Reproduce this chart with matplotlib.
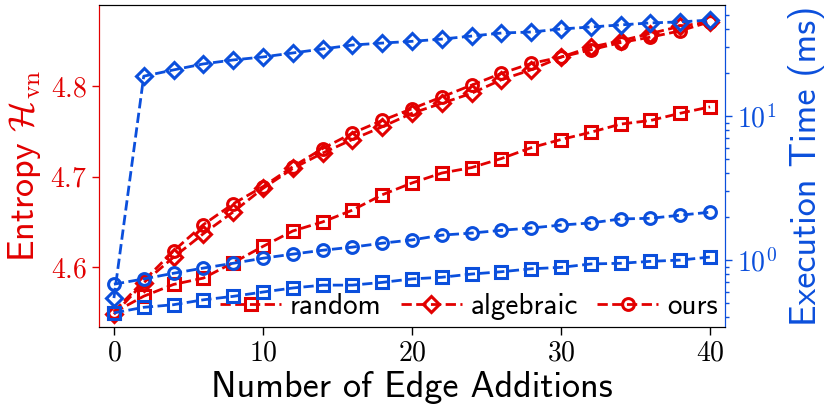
import matplotlib
matplotlib.use("Agg")
import matplotlib.pyplot as plt
import numpy as np

plt.rcParams['mathtext.fontset'] = 'cm'
plt.rcParams['font.family'] = ['cmr10', 'DejaVu Sans']
plt.rcParams['axes.formatter.use_mathtext'] = True

edges = list(range(0, 41, 2))

# Entropy (left axis)
ent_random = [4.550, 4.568, 4.581, 4.588, 4.605, 4.623, 4.640, 4.650, 4.663, 4.680, 4.693,
              4.704, 4.710, 4.720, 4.732, 4.741, 4.749, 4.758, 4.762, 4.770, 4.777]
ent_algebraic = [4.548, 4.583, 4.611, 4.637, 4.661, 4.687, 4.709, 4.726, 4.741, 4.755, 4.770,
                 4.781, 4.792, 4.807, 4.818, 4.832, 4.843, 4.850, 4.858, 4.866, 4.871]
ent_ours = [4.551, 4.585, 4.618, 4.647, 4.670, 4.689, 4.711, 4.731, 4.748, 4.762, 4.775,
            4.788, 4.801, 4.814, 4.825, 4.832, 4.840, 4.848, 4.854, 4.861, 4.871]

# Execution time in ms (right axis, log)
t_random = [0.43, 0.47, 0.49, 0.53, 0.56, 0.60, 0.64, 0.67, 0.67, 0.70, 0.74,
            0.76, 0.80, 0.83, 0.87, 0.89, 0.94, 0.95, 0.98, 1.00, 1.05]
t_algebraic = [0.545, 18.9, 20.9, 23.0, 24.5, 25.7, 27.4, 29.2, 31.1, 32.1, 33.0,
               34.2, 35.9, 37.7, 38.3, 40.2, 41.5, 42.9, 44.3, 45.0, 46.4]
t_ours = [0.68, 0.74, 0.81, 0.88, 0.95, 1.03, 1.10, 1.17, 1.23, 1.31, 1.38,
          1.49, 1.54, 1.61, 1.67, 1.75, 1.81, 1.93, 1.95, 2.05, 2.15]

labels = ['random', 'algebraic', 'ours']
markers = ['s', 'D', 'o']

RED = '#e20000'
BLUE = '#0b4fdc'
SANS = 'cmss10'

fig = plt.figure(figsize=(8.3, 4.15), dpi=100)
ax = fig.add_axes([0.1193, 0.212, 0.7542, 0.776])
ax2 = ax.twinx()

kw = dict(linestyle='--', linewidth=2.0, markersize=8.5, markeredgewidth=2.2, markerfacecolor='none')
for vals, lab, m in zip([ent_random, ent_algebraic, ent_ours], labels, markers):
    ax.plot(edges, vals, color=RED, marker=m, label=lab, **kw)
for vals, lab, m in zip([t_random, t_algebraic, t_ours], labels, markers):
    ax2.plot(edges, vals, color=BLUE, marker=m, label=lab, **kw)

ax.set_xlim(-1, 41)
ax.set_ylim(4.534, 4.8895)
ax2.set_yscale('log')
ax2.set_ylim(0.343, 59)

ax.set_xticks([0, 10, 20, 30, 40])
ax.set_yticks([4.6, 4.7, 4.8])
ax.tick_params(axis='x', labelsize=20, length=6, width=1, direction='out')
ax.tick_params(axis='y', labelsize=20, length=5, width=1, colors=RED)
ax2.tick_params(axis='y', which='major', labelsize=20, length=5, width=1, colors=BLUE)
ax2.tick_params(axis='y', which='minor', length=3, width=1, colors=BLUE)

ax2.spines['left'].set_color(RED)
ax2.spines['right'].set_color(BLUE)
ax.spines['left'].set_color(RED)
ax.spines['right'].set_color(BLUE)
for a in (ax, ax2):
    a.spines['top'].set_color('black')
    a.spines['bottom'].set_color('black')

ax.set_xlabel('Number of Edge Additions', fontsize=26, fontfamily=SANS, labelpad=3)
ax.set_ylabel(r'Entropy $\mathcal{H}_{\mathrm{vn}}$', fontsize=26, fontfamily=SANS, color=RED, labelpad=5)
ax2.set_ylabel('Execution Time (ms)', fontsize=26, fontfamily=SANS, color=BLUE, labelpad=8)

leg = ax.legend(loc='lower right', ncol=3, frameon=False, prop={'family': SANS, 'size': 21},
                handlelength=2.1, handletextpad=0.3, columnspacing=0.65,
                borderaxespad=0.15, borderpad=0.1)

fig.savefig('out.png', dpi=100)
